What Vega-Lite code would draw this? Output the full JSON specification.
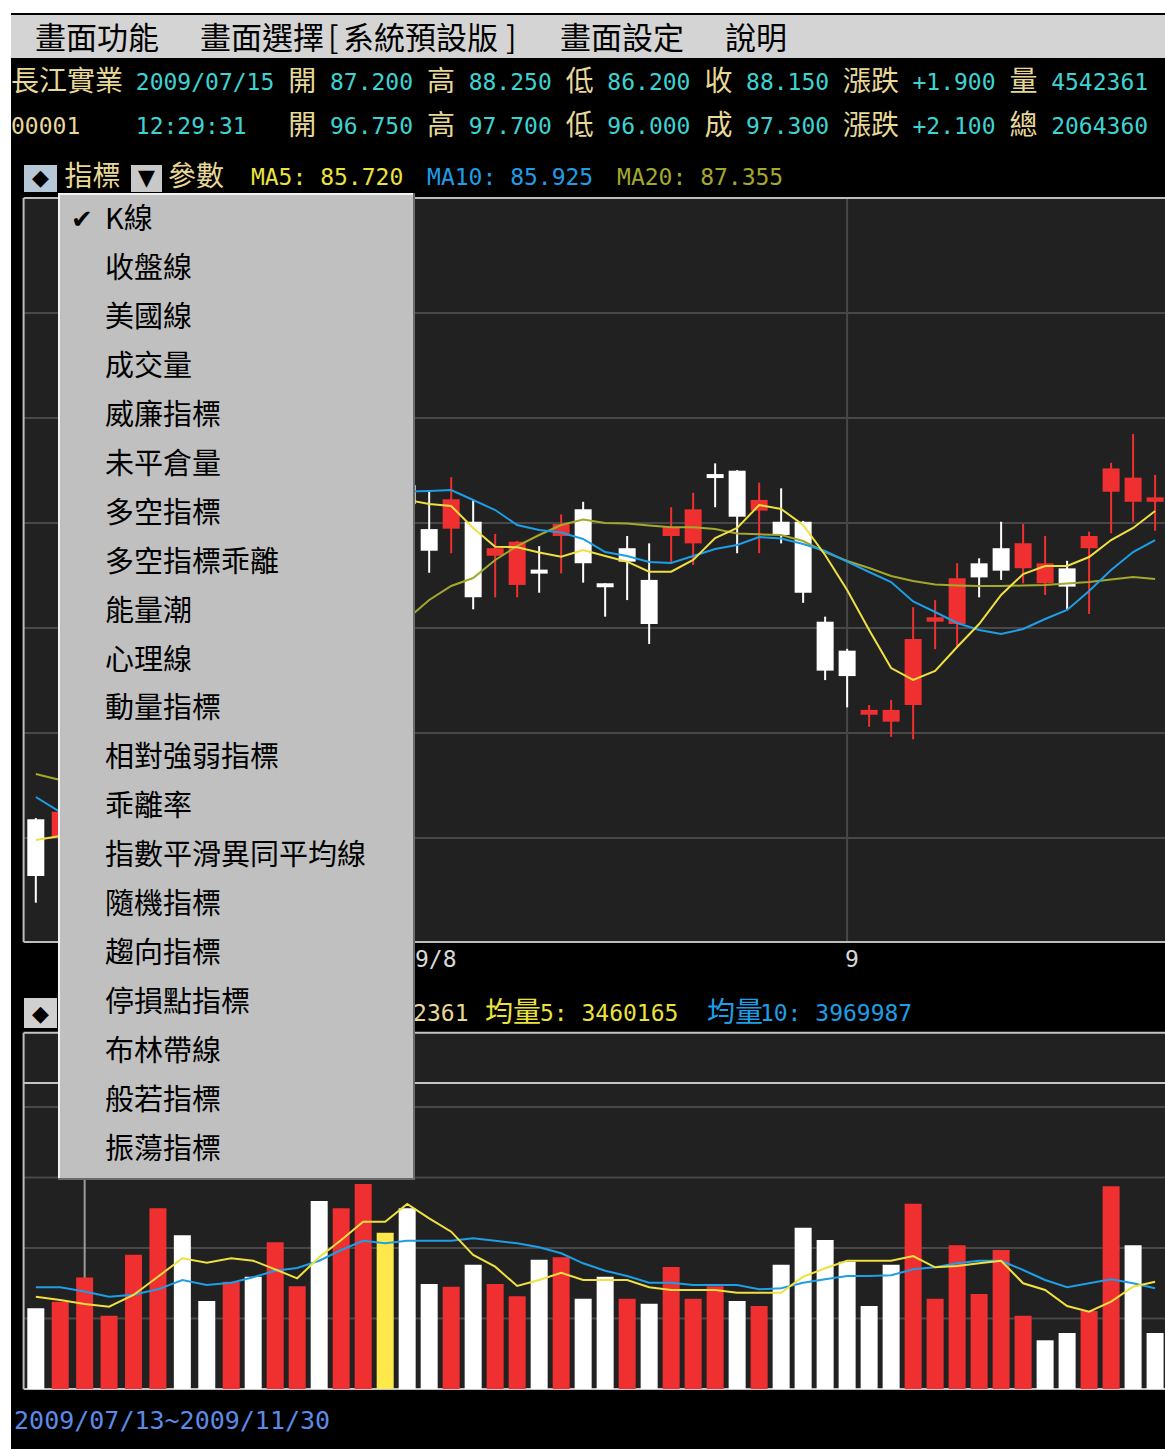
{
"$schema": "https://vega.github.io/schema/vega-lite/v6.json",
"width": 1165, "height": 1449,
"autosize": {"type": "fit", "contains": "padding"},
"padding": 0,
"background": "#ffffff",
"config": {"view": {"stroke": null}, "scale": {"continuousPadding": 0}},
"datasets": {
"k": [
{"i":0,"o":85.89,"h":85.95,"l":81.92,"c":83.19,"v":3284000,"up":0,"m5":84.905,"m10":86.952,"m20":88.048,"vm5":3756000,"vm10":4139000},
{"i":1,"o":85.06,"h":86.6,"l":84.8,"c":86.25,"v":3553000,"up":1,"m5":85.095,"m10":86.238,"m20":87.762,"vm5":3622000,"vm10":4139000},
{"i":2,"o":87.2,"h":88.25,"l":86.2,"c":88.15,"v":4542361,"up":1,"m5":85.72,"m10":85.925,"m20":87.355,"vm5":3460165,"vm10":3969987},
{"i":3,"o":88.4,"h":91.0,"l":88.0,"c":90.5,"v":2983000,"up":1,"m5":86.82,"m10":86.4,"m20":87.5,"vm5":3349000,"vm10":3756000},
{"i":4,"o":90.8,"h":93.6,"l":90.3,"c":93.0,"v":5466000,"up":1,"m5":88.52,"m10":87.1,"m20":87.8,"vm5":3825000,"vm10":3838000},
{"i":5,"o":93.5,"h":97.0,"l":93.2,"c":96.5,"v":7354000,"up":1,"m5":91.28,"m10":88.2,"m20":88.2,"vm5":4570000,"vm10":4057000},
{"i":6,"o":96.8,"h":97.6,"l":95.2,"c":95.8,"v":6255000,"up":0,"m5":93.83,"m10":89.5,"m20":88.7,"vm5":5319000,"vm10":4436000},
{"i":7,"o":96.2,"h":96.9,"l":94.6,"c":95.2,"v":3581000,"up":0,"m5":96.3,"m10":91.0,"m20":89.2,"vm5":5140000,"vm10":4232000},
{"i":8,"o":95.8,"h":99.9,"l":95.5,"c":99.5,"v":4367000,"up":1,"m5":98.4,"m10":92.6,"m20":89.8,"vm5":5319000,"vm10":4326000},
{"i":9,"o":99.8,"h":100.4,"l":98.6,"c":99.0,"v":4570000,"up":0,"m5":100.0,"m10":94.26,"m20":90.4,"vm5":5221000,"vm10":4546000},
{"i":10,"o":99.2,"h":101.4,"l":98.9,"c":101.0,"v":5970000,"up":1,"m5":101.1,"m10":96.19,"m20":91.0,"vm5":4871000,"vm10":4814000},
{"i":11,"o":101.2,"h":103.1,"l":100.8,"c":102.6,"v":4179000,"up":1,"m5":101.9,"m10":97.87,"m20":91.7,"vm5":4505000,"vm10":4924000},
{"i":12,"o":102.8,"h":103.4,"l":100.8,"c":101.2,"v":7651000,"up":0,"m5":102.2,"m10":99.25,"m20":92.4,"vm5":5360000,"vm10":5221000},
{"i":13,"o":101.0,"h":102.1,"l":100.5,"c":101.5,"v":7354000,"up":1,"m5":102.1,"m10":100.25,"m20":93.1,"vm5":6064000,"vm10":5657000},
{"i":14,"o":101.6,"h":102.8,"l":101.2,"c":102.2,"v":8343000,"up":1,"m5":101.8,"m10":100.9,"m20":93.8,"vm5":6808000,"vm10":6035000},
{"i":15,"o":102.4,"h":102.9,"l":101.0,"c":101.6,"v":6361000,"up":0,"sel":1,"m5":101.6,"m10":101.35,"m20":94.6,"vm5":6808000,"vm10":5929000},
{"i":16,"o":101.8,"h":102.0,"l":100.4,"c":100.9,"v":7354000,"up":0,"m5":101.1,"m10":101.5,"m20":95.43,"vm5":7529000,"vm10":6035000},
{"i":17,"o":99.71,"h":101.49,"l":97.63,"c":98.68,"v":4273000,"up":0,"m5":100.905,"m10":101.524,"m20":96.333,"vm5":6947000,"vm10":6035000},
{"i":18,"o":99.73,"h":102.18,"l":98.56,"c":101.13,"v":4163000,"up":1,"m5":100.81,"m10":101.571,"m20":97.0,"vm5":6402000,"vm10":6035000},
{"i":19,"o":100.06,"h":101.1,"l":95.89,"c":96.46,"v":5059000,"up":0,"m5":99.762,"m10":101.095,"m20":97.381,"vm5":5453000,"vm10":6133000},
{"i":20,"o":98.44,"h":99.48,"l":96.46,"c":98.8,"v":4273000,"up":1,"m5":98.871,"m10":100.619,"m20":98.238,"vm5":4977000,"vm10":6035000},
{"i":21,"o":97.05,"h":99.15,"l":96.46,"c":99.11,"v":3773000,"up":1,"m5":98.843,"m10":99.905,"m20":98.905,"vm5":4192000,"vm10":5929000},
{"i":22,"o":97.78,"h":98.9,"l":96.68,"c":97.59,"v":5262000,"up":0,"m5":98.595,"m10":99.667,"m20":99.429,"vm5":4436000,"vm10":5767000},
{"i":23,"o":99.38,"h":100.41,"l":97.6,"c":99.95,"v":5360000,"up":1,"m5":98.395,"m10":99.548,"m20":99.905,"vm5":4733000,"vm10":5522000},
{"i":24,"o":100.65,"h":101.01,"l":97.16,"c":98.08,"v":3675000,"up":0,"m5":98.714,"m10":99.238,"m20":100.167,"vm5":4436000,"vm10":5116000},
{"i":25,"o":97.13,"h":97.13,"l":95.54,"c":96.94,"v":4570000,"up":0,"m5":98.429,"m10":98.619,"m20":100.0,"vm5":4436000,"vm10":4814000},
{"i":26,"o":98.8,"h":99.38,"l":96.33,"c":98.16,"v":3675000,"up":1,"m5":98.157,"m10":98.429,"m20":99.976,"vm5":4436000,"vm10":4599000},
{"i":27,"o":97.29,"h":99.03,"l":94.24,"c":95.19,"v":3471000,"up":0,"m5":97.681,"m10":98.143,"m20":99.881,"vm5":4139000,"vm10":4326000},
{"i":28,"o":99.38,"h":100.75,"l":98.08,"c":99.82,"v":4965000,"up":1,"m5":97.681,"m10":98.095,"m20":99.795,"vm5":4029000,"vm10":4326000},
{"i":29,"o":99.03,"h":101.44,"l":98.0,"c":100.65,"v":3675000,"up":1,"m5":98.238,"m10":98.429,"m20":99.795,"vm5":4029000,"vm10":4232000},
{"i":30,"o":102.33,"h":102.84,"l":100.75,"c":102.14,"v":4179000,"up":1,"m5":99.286,"m10":98.762,"m20":99.714,"vm5":4029000,"vm10":4232000},
{"i":31,"o":102.49,"h":102.52,"l":98.56,"c":100.3,"v":3581000,"up":0,"m5":99.762,"m10":98.952,"m20":99.5,"vm5":3919000,"vm10":4232000},
{"i":32,"o":100.59,"h":101.92,"l":98.56,"c":101.1,"v":3378000,"up":1,"m5":100.857,"m10":99.333,"m20":99.462,"vm5":3919000,"vm10":4057000},
{"i":33,"o":100.06,"h":101.65,"l":99.03,"c":99.43,"v":5059000,"up":0,"m5":100.667,"m10":99.262,"m20":99.429,"vm5":3919000,"vm10":4098000},
{"i":34,"o":100.06,"h":100.1,"l":96.2,"c":96.68,"v":6564000,"up":0,"m5":99.905,"m10":99.0,"m20":99.143,"vm5":4570000,"vm10":4326000},
{"i":35,"o":95.3,"h":95.54,"l":92.52,"c":92.97,"v":6064000,"up":0,"m5":98.476,"m10":98.667,"m20":98.619,"vm5":4912000,"vm10":4464000},
{"i":36,"o":93.92,"h":94.01,"l":91.22,"c":92.71,"v":5181000,"up":0,"m5":96.81,"m10":98.157,"m20":98.19,"vm5":5221000,"vm10":4599000},
{"i":37,"o":90.87,"h":91.33,"l":90.3,"c":91.1,"v":3378000,"up":0,"m5":94.905,"m10":97.667,"m20":97.857,"vm5":5221000,"vm10":4599000},
{"i":38,"o":90.54,"h":91.57,"l":89.82,"c":91.1,"v":5059000,"up":0,"m5":93.095,"m10":97.19,"m20":97.476,"vm5":5221000,"vm10":4627000},
{"i":39,"o":91.33,"h":95.99,"l":89.7,"c":94.48,"v":7541000,"up":1,"m5":92.524,"m10":96.262,"m20":97.238,"vm5":5413000,"vm10":4871000},
{"i":40,"o":95.3,"h":96.33,"l":93.99,"c":95.51,"v":3675000,"up":1,"m5":92.952,"m10":95.762,"m20":97.071,"vm5":4953000,"vm10":4953000},
{"i":41,"o":95.19,"h":98.08,"l":94.11,"c":97.37,"v":5848000,"up":1,"m5":94.095,"m10":95.238,"m20":97.024,"vm5":5006000,"vm10":5116000},
{"i":42,"o":98.08,"h":98.32,"l":96.46,"c":97.41,"v":3866000,"up":1,"m5":95.19,"m10":94.905,"m20":97.0,"vm5":5115000,"vm10":5221000},
{"i":43,"o":98.8,"h":100.06,"l":97.29,"c":97.73,"v":5657000,"up":1,"m5":96.571,"m10":94.714,"m20":97.0,"vm5":5221000,"vm10":5221000},
{"i":44,"o":97.84,"h":99.95,"l":97.13,"c":99.03,"v":2983000,"up":1,"m5":97.571,"m10":94.952,"m20":97.024,"vm5":4302000,"vm10":4843000},
{"i":45,"o":97.13,"h":99.38,"l":96.57,"c":98.08,"v":1982000,"up":0,"m5":97.952,"m10":95.429,"m20":97.048,"vm5":4029000,"vm10":4436000},
{"i":46,"o":97.84,"h":98.2,"l":95.89,"c":96.97,"v":2279000,"up":0,"m5":97.952,"m10":95.857,"m20":97.119,"vm5":3378000,"vm10":4139000},
{"i":47,"o":98.8,"h":99.59,"l":95.67,"c":99.38,"v":3174000,"up":1,"m5":98.381,"m10":96.762,"m20":97.19,"vm5":3146000,"vm10":4302000},
{"i":48,"o":101.49,"h":102.87,"l":99.51,"c":102.6,"v":8249000,"up":1,"m5":99.19,"m10":97.762,"m20":97.31,"vm5":3553000,"vm10":4464000},
{"i":49,"o":101.01,"h":104.24,"l":100.06,"c":102.16,"v":5848000,"up":0,"m5":99.762,"m10":98.619,"m20":97.429,"vm5":4163000,"vm10":4302000},
{"i":50,"o":101.01,"h":102.29,"l":99.63,"c":101.22,"v":2279000,"up":0,"m5":100.571,"m10":99.19,"m20":97.333,"vm5":4367000,"vm10":4098000}
],
"hanText": [
{"line":1,"col":0,"t":"長江實業","role":"lab"},
{"line":1,"col":20,"t":"開","role":"lab"},
{"line":1,"col":30,"t":"高","role":"lab"},
{"line":1,"col":40,"t":"低","role":"lab"},
{"line":1,"col":50,"t":"收","role":"lab"},
{"line":1,"col":60,"t":"漲跌","role":"lab"},
{"line":1,"col":72,"t":"量","role":"lab"},
{"line":2,"col":20,"t":"開","role":"lab"},
{"line":2,"col":30,"t":"高","role":"lab"},
{"line":2,"col":40,"t":"低","role":"lab"},
{"line":2,"col":50,"t":"成","role":"lab"},
{"line":2,"col":60,"t":"漲跌","role":"lab"},
{"line":2,"col":72,"t":"總","role":"lab"},
{"line":3,"col":3.85,"t":"指標","role":"lab"},
{"line":3,"col":11.32,"t":"參數","role":"lab"},
{"line":5,"col":34.18,"t":"均量","role":"ma5"},
{"line":5,"col":50.18,"t":"均量","role":"ma10"}
],
"numText": [
{"line":1,"col":9,"t":"2009/07/15","role":"val"},
{"line":1,"col":23,"t":"87.200","role":"val"},
{"line":1,"col":33,"t":"88.250","role":"val"},
{"line":1,"col":43,"t":"86.200","role":"val"},
{"line":1,"col":53,"t":"88.150","role":"val"},
{"line":1,"col":65,"t":"+1.900","role":"val"},
{"line":1,"col":75,"t":"4542361","role":"val"},
{"line":2,"col":0,"t":"00001","role":"lab"},
{"line":2,"col":9,"t":"12:29:31","role":"val"},
{"line":2,"col":23,"t":"96.750","role":"val"},
{"line":2,"col":33,"t":"97.700","role":"val"},
{"line":2,"col":43,"t":"96.000","role":"val"},
{"line":2,"col":53,"t":"97.300","role":"val"},
{"line":2,"col":65,"t":"+2.100","role":"val"},
{"line":2,"col":75,"t":"2064360","role":"val"},
{"line":3,"col":17.3,"t":"MA5: 85.720","role":"ma5"},
{"line":3,"col":30,"t":"MA10: 85.925","role":"ma10"},
{"line":3,"col":43.7,"t":"MA20: 87.355","role":"ma20"},
{"line":4,"col":29.13,"t":"9/8","role":"axis"},
{"line":4,"col":60.13,"t":"9","role":"axis"},
{"line":5,"col":26,"t":"4542361","role":"lab"},
{"line":5,"col":38.14,"t":"5: 3460165","role":"ma5"},
{"line":5,"col":54,"t":"10: 3969987","role":"ma10"},
{"line":6,"col":0.22,"t":"2009/07/13~2009/11/30","role":"rng"}
],
"menuBar": [
{"line":0,"col":1.73,"t":"畫面功能"},
{"line":0,"col":13.63,"t":"畫面選擇"},
{"line":0,"col":22.86,"t":"["},
{"line":0,"col":23.94,"t":"系統預設版"},
{"line":0,"col":35.69,"t":"]"},
{"line":0,"col":39.58,"t":"畫面設定"},
{"line":0,"col":51.48,"t":"說明"}
],
"glyphs": [
{"line":3,"col":2.127,"t":"◆"},
{"line":3,"col":9.77,"t":"▼"},
{"line":5,"col":2.127,"t":"◆"}
],
"items": [
{"k":0,"name":"K線","chk":true},{"k":1,"name":"收盤線"},{"k":2,"name":"美國線"},{"k":3,"name":"成交量"},
{"k":4,"name":"威廉指標"},{"k":5,"name":"未平倉量"},{"k":6,"name":"多空指標"},{"k":7,"name":"多空指標乖離"},
{"k":8,"name":"能量潮"},{"k":9,"name":"心理線"},{"k":10,"name":"動量指標"},{"k":11,"name":"相對強弱指標"},
{"k":12,"name":"乖離率"},{"k":13,"name":"指數平滑異同平均線"},{"k":14,"name":"隨機指標"},{"k":15,"name":"趨向指標"},
{"k":16,"name":"停損點指標"},{"k":17,"name":"布林帶線"},{"k":18,"name":"般若指標"},{"k":19,"name":"振蕩指標"}
],
"priceGrid": [{"g":85},{"g":90},{"g":95},{"g":100},{"g":105},{"g":110}],
"volGrid": [{"g":2870000},{"g":5740000},{"g":8610000},{"g":11480000}],
"months": [{"i":15,"m":"2009/8"},{"i":36,"m":"2009/9"}],
"cursor": [{"i":2}]
},
"resolve": {"scale": {"x": "independent", "y": "independent", "color": "independent"}},
"layer": [
{
"layer": [
{"data": {"values": [{}]}, "mark": {"type": "rect", "color": "#000000"},
 "encoding": {"x": {"datum": 0, "type": "quantitative", "scale": {"domain": [-0.793, 83.21], "range": [0, 1165], "nice": false, "zero": false, "padding": 0}, "axis": null}, "x2": {"datum": 83.21},
 "y": {"datum": -0.628, "type": "quantitative", "scale": {"domain": [0,1,2,3,4,5,6], "range": [40,83,127,178,960,1014,1421], "nice": false, "zero": false, "padding": 0}, "axis": null}, "y2": {"datum": 6.0688}}},
{"data": {"values": [{}]}, "mark": {"type": "rect", "color": "#d4d4d4"},
 "encoding": {"x": {"datum": 0, "type": "quantitative"}, "x2": {"datum": 83.21}, "y": {"datum": -0.581, "type": "quantitative"}, "y2": {"datum": 0.418}}},
{"data": {"name": "menuBar"}, "mark": {"type": "text", "font": "Noto Sans CJK TC", "fontSize": 31, "align": "left", "baseline": "middle", "color": "#000000"},
 "encoding": {"x": {"field": "col", "type": "quantitative"}, "y": {"field": "line", "type": "quantitative"}, "text": {"field": "t"}}},
{"data": {"name": "hanText"}, "mark": {"type": "text", "font": "Noto Sans CJK TC", "fontSize": 28, "align": "left", "baseline": "middle"},
 "encoding": {"x": {"field": "col", "type": "quantitative"}, "y": {"field": "line", "type": "quantitative"}, "text": {"field": "t"},
  "color": {"field": "role", "type": "nominal", "legend": null, "scale": {"domain": ["lab","val","ma5","ma10","ma20","axis","rng"], "range": ["#e8d898","#3dd3d3","#ece23c","#1e9ee6","#a4a82c","#d8d8d8","#5b8be6"]}}}},
{"data": {"name": "numText"}, "transform": [{"filter": "datum.line < 6"}], "mark": {"type": "text", "font": "DejaVu Sans Mono", "fontSize": 23, "align": "left", "baseline": "middle"},
 "encoding": {"x": {"field": "col", "type": "quantitative"}, "y": {"field": "line", "type": "quantitative"}, "text": {"field": "t"},
  "color": {"field": "role", "type": "nominal", "legend": null, "scale": {"domain": ["lab","val","ma5","ma10","ma20","axis","rng"], "range": ["#e8d898","#3dd3d3","#ece23c","#1e9ee6","#a4a82c","#d8d8d8","#5b8be6"]}}}},
{"data": {"name": "numText"}, "transform": [{"filter": "datum.line == 6"}], "mark": {"type": "text", "font": "DejaVu Sans Mono", "fontSize": 25, "align": "left", "baseline": "middle"},
 "encoding": {"x": {"field": "col", "type": "quantitative"}, "y": {"field": "line", "type": "quantitative"}, "text": {"field": "t"},
  "color": {"field": "role", "type": "nominal", "legend": null, "scale": {"domain": ["lab","val","ma5","ma10","ma20","axis","rng"], "range": ["#e8d898","#3dd3d3","#ece23c","#1e9ee6","#a4a82c","#d8d8d8","#5b8be6"]}}}},
{"data": {"values": [{}]}, "mark": {"type": "rect", "color": "#b6c8d8"},
 "encoding": {"x": {"datum": 0.937, "type": "quantitative"}, "x2": {"datum": 3.317}, "y": {"datum": 2.745, "type": "quantitative"}, "y2": {"datum": 3.0179}}},
{"data": {"values": [{}]}, "mark": {"type": "rect", "color": "#c8c8c8"},
 "encoding": {"x": {"datum": 8.652, "type": "quantitative"}, "x2": {"datum": 10.888}, "y": {"datum": 2.745, "type": "quantitative"}, "y2": {"datum": 3.0179}}},
{"data": {"values": [{}]}, "mark": {"type": "rect", "color": "#d0d0d0"},
 "encoding": {"x": {"datum": 0.937, "type": "quantitative"}, "x2": {"datum": 3.317}, "y": {"datum": 4.704, "type": "quantitative"}, "y2": {"datum": 5.0344}}},
{"data": {"name": "glyphs"}, "mark": {"type": "text", "font": "DejaVu Sans", "fontSize": 22, "align": "center", "baseline": "middle", "color": "#000000"},
 "encoding": {"x": {"field": "col", "type": "quantitative"}, "y": {"field": "line", "type": "quantitative"}, "text": {"field": "t"}}}
]
},
{
"data": {"name": "k"},
"layer": [
{"data": {"values": [{}]}, "mark": {"type": "rect", "color": "#212121"},
 "encoding": {"x": {"datum": -0.5, "type": "quantitative", "scale": {"domain": [-0.5, 8, 50.45], "range": [23.6, 231.2, 1165], "nice": false, "zero": false, "padding": 0}, "axis": null}, "x2": {"datum": 50.45},
  "y": {"datum": 115.476, "type": "quantitative", "scale": {"domain": [80.048, 115.476], "range": [942, 198], "nice": false, "zero": false, "padding": 0}, "axis": null}, "y2": {"datum": 80.048}}},
{"data": {"name": "priceGrid"}, "mark": {"type": "rule", "color": "#484848", "strokeWidth": 2},
 "encoding": {"y": {"field": "g", "type": "quantitative"}, "x": {"datum": -0.5, "type": "quantitative"}, "x2": {"datum": 50.45}}},
{"data": {"name": "months"}, "mark": {"type": "rule", "color": "#484848", "strokeWidth": 2},
 "encoding": {"x": {"field": "i", "type": "quantitative"}, "y": {"datum": 80.048, "type": "quantitative"}, "y2": {"datum": 115.476}}},
{"data": {"values": [{}]}, "mark": {"type": "rule", "color": "#bdbdbd", "strokeWidth": 2},
 "encoding": {"x": {"datum": -0.5, "type": "quantitative"}, "y": {"datum": 80.048, "type": "quantitative"}, "y2": {"datum": 115.476}}},
{"data": {"values": [{"b": 115.476}, {"b": 80.048}]}, "mark": {"type": "rule", "color": "#bdbdbd", "strokeWidth": 2},
 "encoding": {"y": {"field": "b", "type": "quantitative"}, "x": {"datum": -0.5, "type": "quantitative"}, "x2": {"datum": 50.45}}},
{"mark": {"type": "rule", "strokeWidth": 2},
 "encoding": {"x": {"field": "i", "type": "quantitative"}, "y": {"field": "l", "type": "quantitative"}, "y2": {"field": "h"},
  "color": {"condition": {"test": "datum.c > datum.o", "value": "#f03030"}, "value": "#ffffff"}}},
{"mark": {"type": "bar", "size": 17},
 "encoding": {"x": {"field": "i", "type": "quantitative"}, "y": {"field": "o", "type": "quantitative"}, "y2": {"field": "c"},
  "color": {"condition": {"test": "datum.c > datum.o", "value": "#f03030"}, "value": "#ffffff"}}},
{"mark": {"type": "line", "color": "#a4a82c", "strokeWidth": 2},
 "encoding": {"x": {"field": "i", "type": "quantitative"}, "y": {"field": "m20", "type": "quantitative"}}},
{"mark": {"type": "line", "color": "#1e9ee6", "strokeWidth": 2},
 "encoding": {"x": {"field": "i", "type": "quantitative"}, "y": {"field": "m10", "type": "quantitative"}}},
{"mark": {"type": "line", "color": "#f0e040", "strokeWidth": 2},
 "encoding": {"x": {"field": "i", "type": "quantitative"}, "y": {"field": "m5", "type": "quantitative"}}}
]
},
{
"data": {"name": "k"},
"layer": [
{"data": {"values": [{}]}, "mark": {"type": "rect", "color": "#212121"},
 "encoding": {"x": {"datum": -0.5, "type": "quantitative", "scale": {"domain": [-0.5, 8, 50.45], "range": [23.6, 231.2, 1165], "nice": false, "zero": false, "padding": 0}, "axis": null}, "x2": {"datum": 50.45},
  "y": {"datum": 0, "type": "quantitative", "scale": {"domain": [0, 14500000], "range": [1389, 1032.7], "nice": false, "zero": false, "padding": 0}, "axis": null}, "y2": {"datum": 14500000}}},
{"data": {"name": "volGrid"}, "mark": {"type": "rule", "color": "#484848", "strokeWidth": 2},
 "encoding": {"y": {"field": "g", "type": "quantitative"}, "x": {"datum": -0.5, "type": "quantitative"}, "x2": {"datum": 50.45}}},
{"data": {"values": [{"b": 14500000}, {"b": 12450000}, {"b": 0}]}, "mark": {"type": "rule", "color": "#c4c4c4", "strokeWidth": 2},
 "encoding": {"y": {"field": "b", "type": "quantitative"}, "x": {"datum": -0.5, "type": "quantitative"}, "x2": {"datum": 50.45}}},
{"data": {"values": [{}]}, "mark": {"type": "rule", "color": "#bdbdbd", "strokeWidth": 2},
 "encoding": {"x": {"datum": -0.5, "type": "quantitative"}, "y": {"datum": 0, "type": "quantitative"}, "y2": {"datum": 14500000}}},
{"data": {"name": "cursor"}, "mark": {"type": "rule", "color": "#9a9a9a", "strokeWidth": 2},
 "encoding": {"x": {"field": "i", "type": "quantitative"}, "y": {"datum": 0, "type": "quantitative"}, "y2": {"datum": 12450000}}},
{"mark": {"type": "bar", "size": 17},
 "encoding": {"x": {"field": "i", "type": "quantitative"}, "y": {"field": "v", "type": "quantitative"},
  "color": {"condition": [{"test": "datum.sel == 1", "value": "#ffe84a"}, {"test": "datum.up == 1", "value": "#f03030"}], "value": "#ffffff"}}},
{"mark": {"type": "line", "color": "#1e9ee6", "strokeWidth": 2},
 "encoding": {"x": {"field": "i", "type": "quantitative"}, "y": {"field": "vm10", "type": "quantitative"}}},
{"mark": {"type": "line", "color": "#f0e040", "strokeWidth": 2},
 "encoding": {"x": {"field": "i", "type": "quantitative"}, "y": {"field": "vm5", "type": "quantitative"}}}
]
},
{
"data": {"name": "items"},
"layer": [
{"data": {"values": [{}]}, "mark": {"type": "rect", "color": "#c0c0c0"},
 "encoding": {"x": {"datum": 3.389, "type": "quantitative", "scale": {"domain": [-0.793, 83.21], "range": [0, 1165], "nice": false, "zero": false, "padding": 0}, "axis": null}, "x2": {"datum": 29.13},
  "y": {"datum": -0.5516, "type": "quantitative", "scale": {"domain": [0, 19], "range": [220, 1150], "nice": false, "zero": false, "padding": 0}, "axis": null}, "y2": {"datum": 19.613}}},
{"data": {"values": [{}]}, "mark": {"type": "rule", "color": "#f2f2f2", "strokeWidth": 2},
 "encoding": {"x": {"datum": 3.46, "type": "quantitative"}, "y": {"datum": -0.53, "type": "quantitative"}, "y2": {"datum": 19.58}}},
{"data": {"values": [{}]}, "mark": {"type": "rule", "color": "#f2f2f2", "strokeWidth": 2},
 "encoding": {"y": {"datum": -0.53, "type": "quantitative"}, "x": {"datum": 3.389, "type": "quantitative"}, "x2": {"datum": 29.0}}},
{"data": {"values": [{}]}, "mark": {"type": "rule", "color": "#6a6a6a", "strokeWidth": 2},
 "encoding": {"x": {"datum": 29.06, "type": "quantitative"}, "y": {"datum": -0.5516, "type": "quantitative"}, "y2": {"datum": 19.613}}},
{"data": {"values": [{}]}, "mark": {"type": "rule", "color": "#6a6a6a", "strokeWidth": 2},
 "encoding": {"y": {"datum": 19.593, "type": "quantitative"}, "x": {"datum": 3.389, "type": "quantitative"}, "x2": {"datum": 29.13}}},
{"mark": {"type": "text", "font": "Noto Sans CJK TC", "fontSize": 29, "align": "left", "baseline": "middle", "color": "#000000"},
 "encoding": {"x": {"datum": 6.78, "type": "quantitative"}, "y": {"field": "k", "type": "quantitative"}, "text": {"field": "name"}}},
{"transform": [{"filter": "datum.chk"}], "mark": {"type": "text", "font": "DejaVu Sans", "fontSize": 26, "fontWeight": "bold", "align": "center", "baseline": "middle", "color": "#000000"},
 "encoding": {"x": {"datum": 5.12, "type": "quantitative"}, "y": {"field": "k", "type": "quantitative"}, "text": {"value": "✔"}}}
]
}
]
}
